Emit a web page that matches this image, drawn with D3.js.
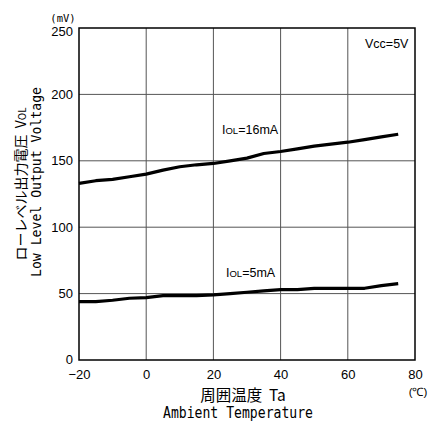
<!DOCTYPE html>
<html>
<head>
<meta charset="utf-8">
<script src="https://cdn.jsdelivr.net/npm/d3@7"></script>
<style>
  body { margin: 0; background: #fff; }
  svg { display: block; }
  .tick text { font-family: "Liberation Sans", Arial, sans-serif; font-size: 13px; }
</style>
</head>
<body>
<div id="chart"></div>
<script>
const width = 429, height = 422;
const margin = { top: 28, right: 14, bottom: 62, left: 79 };

// Ta (°C)
const temps = [-20, -15, -10, -5, 0, 5, 10, 15, 20, 25, 30, 35, 40, 45, 50, 55, 60, 65, 70, 75];
// VOL (mV) vid IOL=16mA
const vol16 = [133, 135, 136, 138, 140, 143, 145.5, 147, 148, 150, 152, 155.5, 157, 159, 161, 162.5, 164, 166, 168, 170];
// VOL (mV) vid IOL=5mA
const vol5 = [44, 44, 45, 46.5, 47, 48.5, 48.5, 48.5, 49, 50, 51, 52, 53, 53, 54, 54, 54, 54, 56, 57.5];

const xTicks = [-20, 0, 20, 40, 60, 80];
const yTicks = [0, 50, 100, 150, 200, 250];

const svg = d3.select("#chart").append("svg")
  .attr("width", width)
  .attr("height", height);

const x = d3.scaleLinear().domain([-20, 80]).range([margin.left, width - margin.right]);
const y = d3.scaleLinear().domain([0, 250]).range([height - margin.bottom, margin.top]);

// rutnät
svg.append("g")
  .selectAll("line")
  .data(xTicks.slice(1, -1))
  .enter().append("line")
    .attr("x1", d => x(d)).attr("x2", d => x(d))
    .attr("y1", y(0)).attr("y2", y(250))
    .attr("stroke", "#555").attr("stroke-width", 1);

svg.append("g")
  .selectAll("line")
  .data(yTicks.slice(1, -1))
  .enter().append("line")
    .attr("x1", x(-20)).attr("x2", x(80))
    .attr("y1", d => y(d)).attr("y2", d => y(d))
    .attr("stroke", "#555").attr("stroke-width", 1);

// ram
svg.append("rect")
  .attr("x", x(-20)).attr("y", y(250))
  .attr("width", x(80) - x(-20)).attr("height", y(0) - y(250))
  .attr("fill", "none").attr("stroke", "#000").attr("stroke-width", 1.5);

// axlar
const xAxis = svg.append("g")
  .attr("transform", `translate(0,${y(0)})`)
  .call(d3.axisBottom(x).tickValues(xTicks).tickSize(0).tickPadding(10).tickFormat(d => d < 0 ? "\u2212" + Math.abs(d) : d));
xAxis.select(".domain").remove();

const yAxis = svg.append("g")
  .attr("transform", `translate(${x(-20)},0)`)
  .call(d3.axisLeft(y).tickValues(yTicks).tickSize(0).tickPadding(6));
yAxis.select(".domain").remove();
yAxis.selectAll(".tick text").attr("dy", d => d === 250 ? "0.6em" : "0.3em");

// kurvor
const line = d3.line().x(d => x(d[0])).y(d => y(d[1]));
[vol16, vol5].forEach(s => {
  svg.append("path")
    .datum(temps.map((t, i) => [t, s[i]]))
    .attr("d", line)
    .attr("fill", "none")
    .attr("stroke", "#000")
    .attr("stroke-width", 3.2)
    .attr("stroke-linejoin", "round");
});

// etiketter
const sans = '"Liberation Sans", Arial, sans-serif';
const mono = '"DejaVu Sans Mono", "Liberation Mono", monospace';
const cjk = '"Noto Sans CJK JP", sans-serif';

function iolLabel(tx, ty, val) {
  const t = svg.append("text").attr("x", tx).attr("y", ty)
    .attr("font-family", sans).attr("font-size", 12.5);
  t.append("tspan").text("I");
  t.append("tspan").attr("font-size", 9.5).text("OL");
  t.append("tspan").text("=" + val);
}
iolLabel(222, 134, "16mA");
iolLabel(226, 277, "5mA");

svg.append("text").attr("x", 365).attr("y", 48)
  .attr("font-family", sans).attr("font-size", 12.5).text("Vcc=5V");

svg.append("text").attr("x", 63).attr("y", 22)
  .attr("text-anchor", "middle")
  .attr("font-family", mono).attr("font-size", 10.5).text("(mV)");

svg.append("text").attr("x", 418).attr("y", 396)
  .attr("text-anchor", "middle")
  .attr("font-family", sans).attr("font-size", 11.5).text("(\u2103)");

// x-axelns titel
svg.append("text").attr("x", 243).attr("y", 401)
  .attr("text-anchor", "middle")
  .attr("font-family", cjk).attr("font-size", 15.5)
  .attr("xml:space", "preserve")
  .text("周囲温度  Ta");
svg.append("text").attr("x", 163).attr("y", 418)
  .attr("font-family", mono).attr("font-size", 15)
  .attr("textLength", 150).attr("lengthAdjust", "spacingAndGlyphs")
  .text("Ambient Temperature");

// y-axelns titel
const yt = svg.append("text")
  .attr("transform", "translate(26,184) rotate(-90)")
  .attr("text-anchor", "middle")
  .attr("font-family", cjk).attr("font-size", 14)
  .attr("xml:space", "preserve");
yt.append("tspan").text("ローレベル出力電圧  V");
yt.append("tspan").attr("font-size", 10).text("OL");

svg.append("text")
  .attr("transform", "translate(41,277) rotate(-90)")
  .attr("font-family", mono).attr("font-size", 14.5)
  .attr("textLength", 190).attr("lengthAdjust", "spacingAndGlyphs")
  .text("Low Level Output Voltage");
</script>
</body>
</html>
